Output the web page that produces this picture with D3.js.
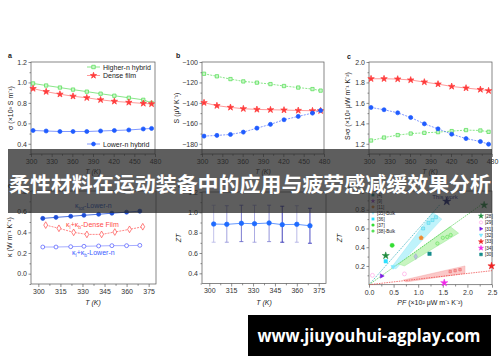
<!DOCTYPE html>
<html>
<head>
<meta charset="utf-8">
<script src="https://d3js.org/d3.v7.min.js"></script>
<style>
  body { margin: 0; background: #fff; }
  svg { display: block; font-family: "Liberation Sans", Arial, sans-serif; }
  .tick text { font-size: 7px; fill: #333; }
  .tick line { stroke: #444; stroke-width: 0.6; }
</style>
</head>
<body>
<script>
var width = 500, height = 362;

// ---- data ----
var tempTop = [303, 322, 342, 361, 381, 401, 421, 442, 463, 475];
var sigmaHigher = [0.99, 0.97, 0.95, 0.93, 0.91, 0.89, 0.87, 0.85, 0.83, 0.80];
var sigmaDense  = [0.94, 0.91, 0.885, 0.865, 0.85, 0.83, 0.815, 0.805, 0.795, 0.79];
var sigmaLower  = [0.53, 0.525, 0.52, 0.52, 0.52, 0.525, 0.53, 0.535, 0.545, 0.55];
var seebeckHigher = [-111.5, -114, -116.7, -119, -120.2, -121.6, -123.5, -125, -126.5, -128];
var seebeckDense  = [-139.8, -142.7, -144.4, -145.7, -146.4, -146.7, -147, -147.4, -147.7, -147.7];
var seebeckLower  = [-172.5, -171.8, -170.9, -168.6, -164.7, -161, -156.5, -153.2, -150, -147.4];
var pfHigher = [1.232, 1.261, 1.285, 1.300, 1.307, 1.314, 1.324, 1.334, 1.330, 1.317];
var pfDense  = [1.836, 1.836, 1.833, 1.824, 1.804, 1.784, 1.761, 1.745, 1.731, 1.719];
var pfLower  = [1.555, 1.533, 1.503, 1.457, 1.395, 1.346, 1.294, 1.251, 1.222, 1.196];

var tempBottom = [303, 312, 322, 331, 341, 350, 360, 369];
var tempDense  = [305, 314, 324, 333, 343, 352, 362, 371];
var kappaTotLower = [0.535, 0.545, 0.555, 0.565, 0.575, 0.585, 0.595, 0.605];
var kappaLbDense  = [0.47, 0.439, 0.40, 0.38, 0.38, 0.403, 0.429, 0.454];
var kappaLbLower  = [0.258, 0.258, 0.261, 0.265, 0.268, 0.271, 0.271, 0.274];
var zt     = [0.885, 0.882, 0.892, 0.888, 0.895, 0.879, 0.882, 0.868];
var ztHigh = [1.07, 1.065, 1.07, 1.07, 1.07, 1.06, 1.065, 1.04];
var ztLow  = [0.706, 0.706, 0.712, 0.706, 0.712, 0.706, 0.706, 0.696];

// panel f: [PF, ZT]
var ptsThisWork = [[1.58, 0.89]];
var ptsRef28 = [[0.34, 0.31], [2.34, 0.85]];
var ptsRef29 = [[0.07, 0.10], [0.72, 0.115]];
var ptsRef31 = [[0.26, 0.093]];
var ptsRef32 = [[0.49, 0.19]];
var ptsRef33 = [[2.49, 0.20]];
var ptsRef34 = [[1.53, 0.02]];
var ptsRef30 = [[1.23, 0.33]];
var ptsRef11 = [[1.06, 0.50]];
var ptsRef36 = [[0.34, 0.25]];
var ptsRef37 = [[0.47, 0.42]];
var ptsRef4  = [[0.95, 0.30]];
var ptsRef35Bulk = [[1.10, 0.60], [1.21, 0.66], [1.29, 0.69], [1.36, 0.72]];
var ptsRef38Bulk = [[1.39, 0.44], [1.50, 0.50], [1.59, 0.51], [1.66, 0.53]];
var ptsRef33Bulk = [[1.65, 0.14], [1.75, 0.15], [1.85, 0.16]];
var bandCyan  = [[0.45, 0.18], [1.30, 0.77], [1.48, 0.70], [0.55, 0.17]];
var bandGreen = [[0.60, 0.22], [1.65, 0.62], [1.82, 0.55], [0.72, 0.20]];
var bandRed   = [[0.70, 0.05], [1.95, 0.20], [1.95, 0.12], [0.75, 0.03]];
var trendCyan  = [[0, 0], [1.45, 0.86]];
var trendGreen = [[0, 0], [2.30, 0.86]];
var trendRed   = [[0, 0], [2.50, 0.15]];

var legendLeft  = ["[4]", "[9]", "[11]", "[35]-Bulk", "[36]", "[37]", "[38]-Bulk"];
var legendRight = ["[28]", "[29]", "[31]", "[32]", "[33]", "[34]", "[30]"];

var ticksTopT = [300, 330, 360, 390, 420, 450, 480];
var ticksBotT = [300, 315, 330, 345, 360, 375];
var ticksSigma = [0.4, 0.6, 0.8, 1.0, 1.2];
var ticksSeebeck = [-180, -160, -140, -120, -100];
var ticksPf = [1.2, 1.4, 1.6, 1.8, 2.0];
var ticksKappa = [0.0, 0.2, 0.4, 0.6, 0.8];
var ticksZt = [0.4, 0.6, 0.8, 1.0, 1.2];
var ticksZtF = [0.2, 0.4, 0.6, 0.8, 1.0];
var ticksPfF = [0.0, 0.5, 1.0, 1.5, 2.0, 2.5];

var bannerText = "柔性材料在运动装备中的应用与疲劳感减缓效果分析";
var siteText = "www.jiuyouhui-agplay.com";

// ---- drawing ----
var svg = d3.select("body").append("svg")
    .attr("width", width).attr("height", height);

var green = "#4fdc4f", red = "#ff3b3b", blue = "#1f5cff";

function midTicks(t) {
    var out = [];
    for (var i = 0; i < t.length - 1; i++) out.push((t[i] + t[i + 1]) / 2);
    out.push(t[0] - (t[1] - t[0]) / 2);
    return out;
}

function panel(box, xDom, yDom, xTicks, yTicks, fx, fy) {
    var x = d3.scaleLinear().domain(xDom).range([box.x0, box.x1]);
    var y = d3.scaleLinear().domain(yDom).range([box.y1, box.y0]);
    svg.append("g").attr("transform", "translate(0," + box.y1 + ")")
        .call(d3.axisBottom(x).tickValues(xTicks).tickSize(3).tickPadding(2).tickFormat(fx));
    svg.append("g").attr("transform", "translate(0," + box.y1 + ")")
        .call(d3.axisBottom(x).tickValues(midTicks(xTicks).filter(function(v) { return v >= xDom[0]; }))
        .tickSize(1.8).tickFormat(""));
    svg.append("g").attr("transform", "translate(" + box.x0 + ",0)")
        .call(d3.axisLeft(y).tickValues(yTicks).tickSize(2.5).tickPadding(1.5).tickFormat(fy));
    svg.append("g").attr("transform", "translate(" + box.x0 + ",0)")
        .call(d3.axisLeft(y).tickValues(midTicks(yTicks).filter(function(v) { return v >= yDom[0]; }))
        .tickSize(1.5).tickFormat(""));
    svg.selectAll(".domain").remove();
    svg.append("rect")
        .attr("x", box.x0).attr("y", box.y0)
        .attr("width", box.x1 - box.x0).attr("height", box.y1 - box.y0)
        .attr("fill", "none").attr("stroke", "#555").attr("stroke-width", 0.7);
    return { x: x, y: y };
}

function series(p, xs, ys, color, lineColor, dash, sym, size, fill) {
    var pts = xs.map(function(d, i) { return [d, ys[i]]; });
    svg.append("path")
        .attr("d", d3.line().x(function(d) { return p.x(d[0]); }).y(function(d) { return p.y(d[1]); })(pts))
        .attr("fill", "none").attr("stroke", lineColor).attr("stroke-width", 0.8)
        .attr("stroke-dasharray", dash);
    svg.selectAll(null).data(pts).enter().append("path")
        .attr("d", d3.symbol().type(sym).size(size))
        .attr("transform", function(d) { return "translate(" + p.x(d[0]) + "," + p.y(d[1]) + ")"; })
        .attr("fill", fill).attr("stroke", color).attr("stroke-width", 0.7);
}

function txt(x, y, s, opts) {
    opts = opts || {};
    var t = svg.append("text").attr("x", x).attr("y", y)
        .attr("font-size", opts.size || 7).attr("fill", opts.fill || "#222")
        .attr("text-anchor", opts.anchor || "start")
        .attr("font-weight", opts.weight || "normal")
        .attr("font-style", opts.style || "normal");
    if (opts.rotate) t.attr("transform", "rotate(-90," + x + "," + y + ")");
    t.text(s);
    return t;
}

var f1 = d3.format(".1f"), f0 = d3.format("d");
var sq = d3.symbolSquare, star = d3.symbolStar, circ = d3.symbolCircle, dia = d3.symbolDiamond;

// panel a
var pa = panel({ x0: 31, x1: 155, y0: 62, y1: 154 }, [300, 480], [0.3, 1.2], ticksTopT, ticksSigma, f0, f1);
series(pa, tempTop, sigmaHigher, green, "#6be06b", null, sq, 11, "#c9f7c9");
series(pa, tempTop, sigmaDense, red, "#ff8080", null, star, 13, red);
series(pa, tempTop, sigmaLower, blue, "#5f7dff", null, circ, 13, blue);
txt(8, 58, "a", { weight: "bold" });
txt(13, 108, "σ (×10³ S m⁻¹)", { rotate: true, anchor: "middle" });
[["Higher-n hybrid", green, "#6be06b", sq, "#c9f7c9", 67],
 ["Dense film", red, "#ff8080", star, red, 75.5],
 ["Lower-n hybrid", blue, "#5f7dff", circ, blue, 144]].forEach(function(l) {
    svg.append("line").attr("x1", 87).attr("x2", 100).attr("y1", l[5]).attr("y2", l[5])
        .attr("stroke", l[2]).attr("stroke-width", 0.8);
    svg.append("path").attr("d", d3.symbol().type(l[3]).size(12)())
        .attr("transform", "translate(93.5," + l[5] + ")")
        .attr("fill", l[4]).attr("stroke", l[1]).attr("stroke-width", 0.7);
    txt(103, l[5] + 2.5, l[0]);
});
txt(93, 174, "T (K)", { anchor: "middle", style: "italic" });

// panel b
var pb = panel({ x0: 202, x1: 324, y0: 62, y1: 154 }, [300, 480], [-190, -100], ticksTopT, ticksSeebeck, f0, f0);
series(pb, tempTop, seebeckHigher, green, "#6be06b", "2,1.2", sq, 11, "#c9f7c9");
series(pb, tempTop, seebeckDense, red, "#ff8080", null, star, 13, red);
series(pb, tempTop, seebeckLower, blue, "#5f7dff", "2,1.2", circ, 13, blue);
txt(176, 58, "b", { weight: "bold" });
txt(179, 108, "S (μV K⁻¹)", { rotate: true, anchor: "middle" });
txt(263, 174, "T (K)", { anchor: "middle", style: "italic" });

// panel c
var pc = panel({ x0: 369, x1: 492, y0: 62, y1: 154 }, [300, 480], [1.1, 2.0], ticksTopT, ticksPf, f0, f1);
series(pc, tempTop, pfHigher, green, "#6be06b", "2,1.2", sq, 11, "#c9f7c9");
series(pc, tempTop, pfDense, red, "#ff8080", null, star, 13, red);
series(pc, tempTop, pfLower, blue, "#5f7dff", "2,1.2", circ, 13, blue);
txt(347, 59, "c", { weight: "bold" });
txt(350, 106, "S²σ (×10² μW m⁻¹ K⁻²)", { rotate: true, anchor: "middle" });
txt(430, 174, "T (K)", { anchor: "middle", style: "italic" });

// panel d
var pd = panel({ x0: 31, x1: 156, y0: 191, y1: 284 }, [295, 380], [-0.1, 0.8], ticksBotT, ticksKappa, f0, f1);
series(pd, tempBottom, kappaTotLower, "#1f4fd8", "#1f4fd8", null, circ, 13, "#1f4fd8");
series(pd, tempDense, kappaLbDense, "#ff4a4a", "#ff6a6a", "2,1", dia, 13, "#fff");
series(pd, tempBottom, kappaLbLower, "#4a55ff", "#8f98ff", null, circ, 12, "#fff");
txt(8, 188, "d", { weight: "bold" });
txt(12, 237, "κ (W m⁻¹ K⁻¹)", { rotate: true, anchor: "middle" });
var l1 = txt(75, 208, "κ", { fill: "#2050c8" });
l1.append("tspan").attr("font-size", 5).attr("dy", 1.5).text("tot");
l1.append("tspan").attr("dy", -1.5).text("-Lower-n");
var l2 = txt(66, 227, "κ", { fill: "#ff4a4a" });
l2.append("tspan").attr("font-size", 5).attr("dy", 1.5).text("l");
l2.append("tspan").attr("dy", -1.5).text("+κ");
l2.append("tspan").attr("font-size", 5).attr("dy", 1.5).text("b");
l2.append("tspan").attr("dy", -1.5).text("-Dense Film");
var l3 = txt(72, 255, "κ", { fill: "#3a5cff" });
l3.append("tspan").attr("font-size", 5).attr("dy", 1.5).text("l");
l3.append("tspan").attr("dy", -1.5).text("+κ");
l3.append("tspan").attr("font-size", 5).attr("dy", 1.5).text("b");
l3.append("tspan").attr("dy", -1.5).text("-Lower-n");
txt(93, 305, "T (K)", { anchor: "middle", style: "italic" });

// panel e
var pe = panel({ x0: 202, x1: 326, y0: 192, y1: 283.5 }, [295, 380], [0.3, 1.2], ticksBotT, ticksZt, f0, f1);
var barColors = ["#b4b4e6", "#8c8cd8", "#5a5ac4", "#9494da", "#7878d0", "#1414aa", "#a8a8e2", "#2222b4"];
tempBottom.forEach(function(t, i) {
    var cx = pe.x(t);
    svg.append("line").attr("x1", cx).attr("x2", cx).attr("y1", pe.y(ztHigh[i])).attr("y2", pe.y(ztLow[i]))
        .attr("stroke", barColors[i]).attr("stroke-width", 0.8);
    [ztHigh[i], ztLow[i]].forEach(function(v) {
        svg.append("line").attr("x1", cx - 2).attr("x2", cx + 2).attr("y1", pe.y(v)).attr("y2", pe.y(v))
            .attr("stroke", barColors[i]).attr("stroke-width", 0.8);
    });
});
series(pe, tempBottom, zt, "#1f6bff", "#3d7dff", null, circ, 16, "#1f6bff");
txt(178, 188, "e", { weight: "bold" });
txt(181, 238, "ZT", { rotate: true, anchor: "middle", style: "italic" });
txt(264, 305, "T (K)", { anchor: "middle", style: "italic" });

// panel f
var pf = panel({ x0: 369, x1: 492, y0: 191, y1: 284.7 }, [0, 2.5], [0, 1.0], ticksPfF, ticksZtF, f1, f1);
var poly = d3.line().x(function(d) { return pf.x(d[0]); }).y(function(d) { return pf.y(d[1]); });
svg.append("path").attr("d", poly(bandCyan) + "Z").attr("fill", "#bff3fb").attr("stroke", "#8fe6f2").attr("stroke-width", 0.4);
svg.append("path").attr("d", poly(bandGreen) + "Z").attr("fill", "#c8f5c0").attr("stroke", "#8ee68a").attr("stroke-width", 0.4);
svg.append("path").attr("d", poly(bandRed) + "Z").attr("fill", "#fbc8c8").attr("stroke", "#f29a9a").attr("stroke-width", 0.4);
[[trendCyan, "#2aa9b8"], [trendGreen, "#3ec83e"], [trendRed, "#ee3b3b"]].forEach(function(l) {
    svg.append("path").attr("d", poly(l[0])).attr("fill", "none").attr("stroke", l[1])
        .attr("stroke-width", 0.7).attr("stroke-dasharray", "1.5,1");
});
var triR = { draw: function(c, s) { var r = Math.sqrt(s) * 0.7; c.moveTo(r, 0); c.lineTo(-r * 0.6, -r * 0.9); c.lineTo(-r * 0.6, r * 0.9); c.closePath(); } };
var triD = { draw: function(c, s) { var r = Math.sqrt(s) * 0.7; c.moveTo(0, r); c.lineTo(-r * 0.9, -r * 0.6); c.lineTo(r * 0.9, -r * 0.6); c.closePath(); } };
var penta = { draw: function(c, s) { var r = Math.sqrt(s) * 0.6; for (var k = 0; k < 5; k++) { var a = -Math.PI / 2 + k * 2 * Math.PI / 5; if (k) c.lineTo(r * Math.cos(a), r * Math.sin(a)); else c.moveTo(r * Math.cos(a), r * Math.sin(a)); } c.closePath(); } };
function scatter(pts, sym, size, fill, stroke) {
    svg.selectAll(null).data(pts).enter().append("path")
        .attr("d", d3.symbol().type(sym).size(size))
        .attr("transform", function(d) { return "translate(" + pf.x(d[0]) + "," + pf.y(d[1]) + ")"; })
        .attr("fill", fill).attr("stroke", stroke).attr("stroke-width", 0.5);
}
scatter(ptsRef35Bulk, sq, 9, "#9cecf8", "#45cfe6");
scatter(ptsRef38Bulk, circ, 9, "#b8f5a8", "#4fd84f");
scatter(ptsRef33Bulk, sq, 6, "#f7a0a0", "#e85a5a");
scatter(ptsRef28, star, 16, "#1e8a3c", "#1e8a3c");
scatter(ptsRef29, circ, 12, "#fff", "#ff88dd");
scatter(ptsRef31, triR, 12, "#7a1fe0", "#7a1fe0");
scatter(ptsRef32, triD, 12, "#7fe8ff", "#7fe8ff");
scatter(ptsRef33, star, 16, "#ee2222", "#ee2222");
scatter(ptsRef34, star, 16, "#f028e8", "#f028e8");
scatter(ptsRef30, sq, 12, "#168c8c", "#168c8c");
scatter(ptsRef11, penta, 14, "#f08a30", "#f08a30");
scatter(ptsRef36, sq, 12, "#2ee0ff", "#2ee0ff");
scatter(ptsRef37, circ, 14, "#33dd33", "#33dd33");
scatter(ptsRef4, dia, 10, "#b9c4dd", "#95a2c4");
scatter(ptsThisWork, star, 22, "#141a7a", "#141a7a");
txt(445, 198.5, "This work", { size: 6, anchor: "middle", fill: "#1f2f8f" });
var leftSyms = [[sq, "#148a8a"], [star, "#9a3fd8"], [penta, "#f08a30"], [triD, "#a8f0ff"], [sq, "#2ee0ff"], [circ, "#33dd33"], [circ, "#55e055"]];
legendLeft.forEach(function(s, i) {
    var yy = 195 + i * 6;
    svg.append("path").attr("d", d3.symbol().type(leftSyms[i][0]).size(8)())
        .attr("transform", "translate(373," + yy + ")").attr("fill", leftSyms[i][1]);
    txt(377, yy + 1.8, s, { size: 4.6 });
});
var rightSyms = [[star, "#1e8a3c", "#1e8a3c"], [circ, "#fff", "#ff88dd"], [triR, "#7a1fe0", "#7a1fe0"], [triD, "#7fe8ff", "#7fe8ff"],
                 [star, "#ee2222", "#ee2222"], [star, "#f028e8", "#f028e8"], [sq, "#168c8c", "#168c8c"]];
legendRight.forEach(function(s, i) {
    var yy = 216 + i * 6.4;
    svg.append("path").attr("d", d3.symbol().type(rightSyms[i][0]).size(8)())
        .attr("transform", "translate(481," + yy + ")").attr("fill", rightSyms[i][1])
        .attr("stroke", rightSyms[i][2]).attr("stroke-width", 0.5);
    txt(485, yy + 1.8, s, { size: 4.6 });
});
txt(348, 188, "f", { weight: "bold" });
txt(342, 238, "ZT", { rotate: true, anchor: "middle", style: "italic" });
var xl = txt(430, 305, "PF", { anchor: "middle", style: "italic" });
xl.append("tspan").attr("font-style", "normal").text(" (×10² μW m⁻¹ K⁻²)");

// overlay banner
svg.append("rect").attr("x", 8).attr("y", 149).attr("width", 484).attr("height", 64)
    .attr("fill", "rgba(40,40,40,0.75)");
svg.append("text").attr("x", 250).attr("y", 192)
    .attr("text-anchor", "middle").attr("fill", "#fff")
    .attr("font-family", "'Noto Sans CJK SC', sans-serif").attr("font-weight", "bold")
    .attr("font-size", 20).attr("textLength", 482).attr("lengthAdjust", "spacingAndGlyphs")
    .text(bannerText);

// site label
svg.append("rect").attr("x", 248).attr("y", 315).attr("width", 243).attr("height", 41).attr("fill", "#000");
svg.append("text").attr("x", 369).attr("y", 342)
    .attr("text-anchor", "middle").attr("fill", "#fff")
    .attr("font-family", "'Open Sans', sans-serif").attr("font-weight", "bold")
    .attr("font-size", 17).attr("textLength", 223).attr("lengthAdjust", "spacingAndGlyphs")
    .text(siteText);
</script>
</body>
</html>
